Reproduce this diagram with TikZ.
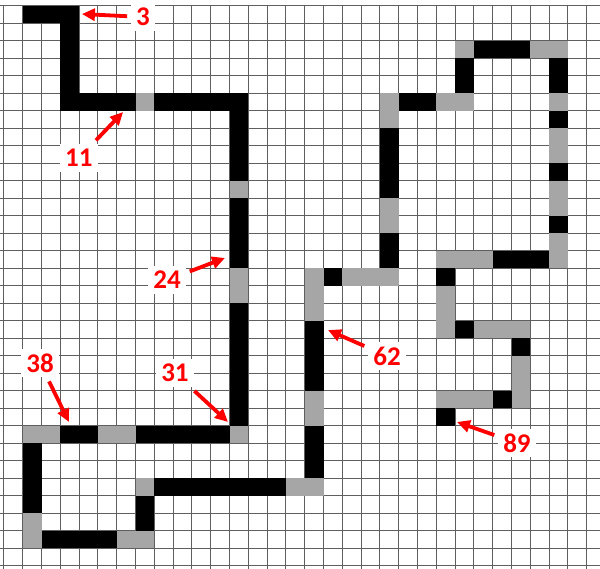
\documentclass[tikz,border=0pt]{standalone}
\usepackage{fontspec}
\setmainfont{Carlito}
\usetikzlibrary{arrows.meta}
\definecolor{cellgray}{RGB}{166,166,166}
\definecolor{gridline}{RGB}{95,95,95}
\definecolor{markred}{RGB}{255,0,0}
\begin{document}
\begin{tikzpicture}[
    x=9.4pt, y=-8.75pt,
    blk/.style={fill=black},
    gry/.style={fill=cellgray},
    lbl/.style={fill=white,text=markred,font=\fontsize{13.5}{15}\selectfont\bfseries,
                inner sep=2.5pt,outer sep=2pt},
    pointer/.style={draw=markred,line width=1.9pt,
                    -{Triangle[length=6.5pt,width=6pt]}}
]
\useasboundingbox (-0.2074,-0.3314) rectangle (31.707,32.126);
\clip (-0.2074,-0.3314) rectangle (31.707,32.126);

% grid
\foreach \i in {0,...,32}
  \draw[gridline,line width=0.5pt] (-0.3,\i) -- (32,\i);
\foreach \i in {0,...,32}
  \draw[gridline,line width=0.5pt] (\i,0) -- (\i,32.2);

% black cells
\foreach \c/\r in {1/0,2/0,3/0,3/1,3/2,3/3,3/4,3/5,4/5,5/5,6/5,
    8/5,9/5,10/5,11/5,12/5,12/6,12/7,12/8,12/9,12/11,12/12,12/13,12/14,
    12/17,12/18,12/19,12/20,12/21,12/22,12/23,
    3/24,4/24,7/24,8/24,9/24,10/24,11/24,
    1/25,1/26,1/27,1/28,2/30,3/30,4/30,5/30,7/28,7/29,
    8/27,9/27,10/27,11/27,12/27,13/27,14/27,
    16/24,16/25,16/26,16/18,16/19,16/20,16/21,17/15,
    20/13,20/14,20/7,20/8,20/9,20/10,21/5,22/5,24/3,24/4,
    25/2,26/2,27/2,29/3,29/4,29/6,29/9,29/12,
    26/14,27/14,28/14,23/15,24/18,27/19,26/22,23/23}
  \fill[blk] (\c,\r) rectangle ++(1,1);

% gray cells
\foreach \c/\r in {7/5,12/10,12/15,12/16,12/24,1/24,2/24,5/24,6/24,
    1/29,1/30,6/30,7/30,7/27,15/27,16/27,16/22,16/23,16/16,16/17,16/15,
    18/15,19/15,20/15,20/11,20/12,20/5,20/6,23/5,24/5,24/2,28/2,29/2,
    29/5,29/7,29/8,29/10,29/11,29/13,29/14,23/14,24/14,25/14,
    23/16,23/17,23/18,25/18,26/18,27/18,27/20,27/21,27/22,
    23/22,24/22,25/22}
  \fill[gry] (\c,\r) rectangle ++(1,1);

% labels
\node[lbl] (n3)  at (7.40,0.64)   {3};
\node[lbl] (n11) at (3.99,8.70)   {11};
\node[lbl] (n24) at (8.68,15.67)  {24};
\node[lbl] (n38) at (1.92,20.41)  {38};
\node[lbl] (n31) at (9.10,20.98)  {31};
\node[lbl] (n62) at (20.38,20.01) {62};
\node[lbl] (n89) at (27.29,24.98) {89};

\coordinate (t3)  at (4.15,0.47);
\coordinate (t11) at (6.34,6.07);
\coordinate (t24) at (11.76,14.41);
\coordinate (t38) at (3.46,23.78);
\coordinate (t31) at (11.92,23.78);
\coordinate (t62) at (17.24,18.53);
\coordinate (t89) at (24.10,23.78);

\draw[pointer] (n3)  -- (t3);
\draw[pointer] (n11) -- (t11);
\draw[pointer] (n24) -- (t24);
\draw[pointer] (n38) -- (t38);
\draw[pointer] (n31) -- (t31);
\draw[pointer] (n62) -- (t62);
\draw[pointer] (n89) -- (t89);
\end{tikzpicture}
\end{document}
